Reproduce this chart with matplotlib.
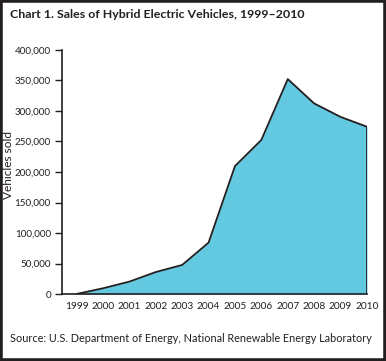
import matplotlib.pyplot as plt
from matplotlib.patches import Rectangle
from matplotlib.ticker import FuncFormatter

years = [1999, 2000, 2001, 2002, 2003, 2004, 2005, 2006, 2007, 2008, 2009, 2010]
sales = [17, 9350, 20282, 35961, 47600, 84199, 209711, 252636, 352274, 312386, 290271, 274210]
y_ticks = [0, 50000, 100000, 150000, 200000, 250000, 300000, 350000, 400000]

TITLE = 'Chart 1. Sales of Hybrid Electric Vehicles, 1999\u20132010'
SOURCE = 'Source: U.S. Department of Energy, National Renewable Energy Laboratory'
DARK = '#231f20'
FILL = '#62c9e0'

plt.rcParams['font.family'] = ['Lato', 'DejaVu Sans']

W, H = 386, 361
fig = plt.figure(figsize=(W / 100, H / 100), dpi=100)
ax = fig.add_axes([62 / W, 67 / H, (367 - 62) / W, (294 - 50) / H])

ax.fill_between(years, sales, 0, color=FILL, linewidth=0)
ax.plot(years, sales, color=DARK, linewidth=1.3)
ax.plot([years[-1], years[-1]], [0, sales[-1]], color=DARK, linewidth=1.3)

ax.set_xlim(1998.45, 2010)
ax.set_ylim(0, 400000)
ax.set_xticks(years)
ax.set_yticks(y_ticks)
ax.yaxis.set_major_formatter(FuncFormatter(lambda v, p: f'{int(v):,}'))
ax.tick_params(axis='x', length=0, pad=6, labelsize=7.3, colors=DARK)
ax.tick_params(axis='y', length=5, width=1, pad=3, labelsize=7.1, colors=DARK)
for side in ['top', 'right']:
    ax.spines[side].set_visible(False)
for side in ['left', 'bottom']:
    ax.spines[side].set_color(DARK)
    ax.spines[side].set_linewidth(1.2)

fig.text(10 / W, 1 - 15 / H, TITLE, fontsize=8.9, fontweight='bold', color=DARK,
         ha='left', va='center')
fig.text(9 / W, 1 - 165 / H, 'Vehicles sold', fontsize=8.6, color=DARK,
         rotation=90, ha='center', va='center')
fig.text(10 / W, 1 - 339 / H, SOURCE, fontsize=7.8, color=DARK, ha='left', va='center')

fig.patches.append(Rectangle((0, 0), 1, 1, transform=fig.transFigure, fill=False,
                             edgecolor=DARK, linewidth=4, zorder=10))

fig.savefig('out.png', dpi=100)
